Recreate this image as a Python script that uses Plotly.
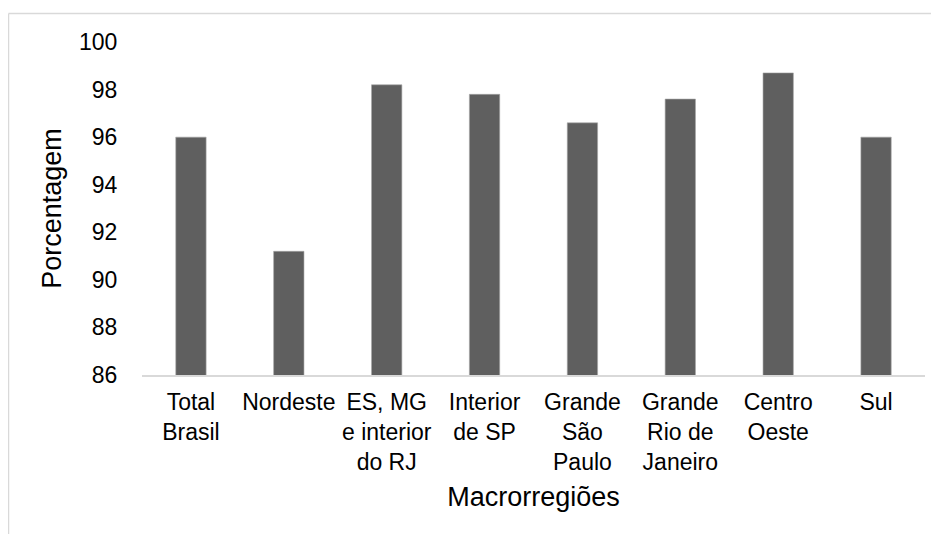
import plotly.graph_objects as go

categories = ["Total<br>Brasil", "Nordeste", "ES, MG<br>e interior<br>do RJ", "Interior<br>de SP",
              "Grande<br>São<br>Paulo", "Grande<br>Rio de<br>Janeiro", "Centro<br>Oeste", "Sul"]
values = [96.0, 91.2, 98.2, 97.8, 96.6, 97.6, 98.7, 96.0]
y_ticks = [86, 88, 90, 92, 94, 96, 98, 100]

# page has an 8px body margin, so figure is drawn offset by (8, 8)
W, H = 931, 526
L, R, T, B = 134, 14, 34, 159
pw, ph = W - L - R, H - T - B

fig = go.Figure(go.Bar(
    x=categories, y=values,
    marker=dict(color="#5f5f5f", line=dict(color="#a6a6a6", width=0.6)),
    width=0.31,
))

font = "Liberation Sans, Arial, sans-serif"
fig.update_layout(
    width=W, height=H,
    margin=dict(l=L, r=R, t=T, b=B, autoexpand=False),
    paper_bgcolor="white", plot_bgcolor="white",
    showlegend=False,
    font=dict(family=font, color="#000000", size=23),
    xaxis=dict(
        showline=True, linecolor="#d9d9d9", linewidth=1.5,
        ticks="outside", ticklen=6, tickcolor="rgba(0,0,0,0)",
        tickfont=dict(size=23),
        title=dict(text="Macrorregiões", font=dict(size=27), standoff=13),
        showgrid=False, tickangle=0,
    ),
    yaxis=dict(
        range=[86, 100], tickvals=y_ticks, showgrid=False, zeroline=False,
        showline=False, ticks="outside", ticklen=19, tickcolor="rgba(0,0,0,0)",
        tickfont=dict(size=23),
        title=dict(text="Porcentagem", font=dict(size=27), standoff=9),
    ),
)

# outer chart border (light gray), top and left edges visible
lx = (0.5 - L) / pw
ty = (H - B - 5.5) / ph
fig.add_shape(type="line", xref="paper", yref="paper", x0=lx, x1=1.2, y0=ty, y1=ty,
              line=dict(color="#d9d9d9", width=1.5))
fig.add_shape(type="line", xref="paper", yref="paper", x0=lx, x1=lx, y0=ty, y1=-0.6,
              line=dict(color="#d9d9d9", width=1.5))

fig.write_html("out.html")
